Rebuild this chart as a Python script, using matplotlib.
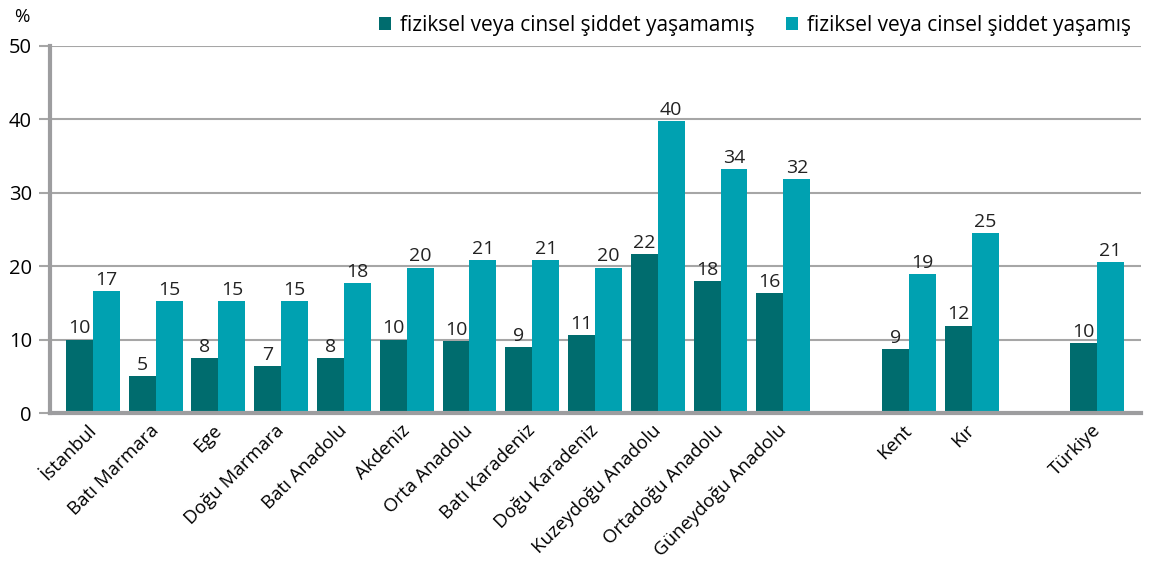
import numpy as np
import matplotlib.pyplot as plt
import matplotlib.transforms as mtransforms

plt.rcParams['font.family'] = ['Open Sans', 'DejaVu Sans']

categories = ['İstanbul', 'Batı Marmara', 'Ege', 'Doğu Marmara', 'Batı Anadolu',
              'Akdeniz', 'Orta Anadolu', 'Batı Karadeniz', 'Doğu Karadeniz',
              'Kuzeydoğu Anadolu', 'Ortadoğu Anadolu', 'Güneydoğu Anadolu',
              'Kent', 'Kır', 'Türkiye']
# slot on the x axis (gaps between regions, settlement type and country)
slots = [0, 1, 2, 3, 4, 5, 6, 7, 8, 9, 10, 11, 13, 14, 16]

not_exp = [10.0, 5.0, 7.5, 6.4, 7.5, 10.0, 9.8, 9.0, 10.6, 21.7, 18.0, 16.3, 8.7, 11.9, 9.5]
exp = [16.6, 15.3, 15.3, 15.3, 17.7, 19.8, 20.8, 20.8, 19.8, 39.8, 33.2, 31.9, 18.9, 24.5, 20.6]
not_exp_labels = [10, 5, 8, 7, 8, 10, 10, 9, 11, 22, 18, 16, 9, 12, 10]
exp_labels = [17, 15, 15, 15, 18, 20, 21, 21, 20, 40, 34, 32, 19, 25, 21]

series_names = ['fiziksel veya cinsel şiddet yaşamamış', 'fiziksel veya cinsel şiddet yaşamış']
dark = '#006c6e'
light = '#00a1b1'
grey = '#9d9d9f'

fig = plt.figure(figsize=(11.49, 5.65), dpi=100)
ax = fig.add_axes([0.0435, 0.269, 0.9495, 0.6496])

x = np.array(slots, dtype=float)
w = 0.43
b1 = ax.bar(x - w / 2, not_exp, w, color=dark, label=series_names[0], zorder=3)
b2 = ax.bar(x + w / 2, exp, w, color=light, label=series_names[1], zorder=3)

for bars, vals, labs in ((b1, not_exp, not_exp_labels), (b2, exp, exp_labels)):
    for rect, v, lab in zip(bars, vals, labs):
        ax.text(rect.get_x() + rect.get_width() / 2, v + 0.3, str(lab),
                ha='center', va='bottom', fontsize=14, color='#222222')

ax.set_xlim(-0.685, 16.70)
ax.set_ylim(0, 50)
ax.set_yticks([0, 10, 20, 30, 40, 50])
ax.yaxis.grid(True, color='#a6a6a6', linewidth=1.5, zorder=0)
ax.tick_params(axis='y', length=8, width=1.5, color='#a6a6a6', labelsize=14.5, pad=5)

ax.set_xticks(x)
ax.set_xticklabels(categories, rotation=45, ha='right', rotation_mode='anchor', fontsize=13.5)
ax.tick_params(axis='x', length=0, pad=6)
offset = mtransforms.ScaledTranslation(-0.06, 0, fig.dpi_scale_trans)
for lab in ax.get_xticklabels():
    lab.set_transform(lab.get_transform() + offset)

for s in ('top', 'right'):
    ax.spines[s].set_visible(False)
ax.spines['left'].set_color(grey)
ax.spines['left'].set_linewidth(3)
ax.spines['bottom'].set_color(grey)
ax.spines['bottom'].set_linewidth(3)
ax.spines['bottom'].set_zorder(4)

fig.text(0.012, 0.97, '%', fontsize=13.5, ha='left', va='center')

ax.legend(loc='lower right', bbox_to_anchor=(1.0, 1.0), ncol=2, frameon=False,
          fontsize=15, handlelength=0.6, handleheight=0.6, handletextpad=0.4,
          columnspacing=1.5, borderaxespad=0.1)

fig.savefig('out.png', dpi=100)
